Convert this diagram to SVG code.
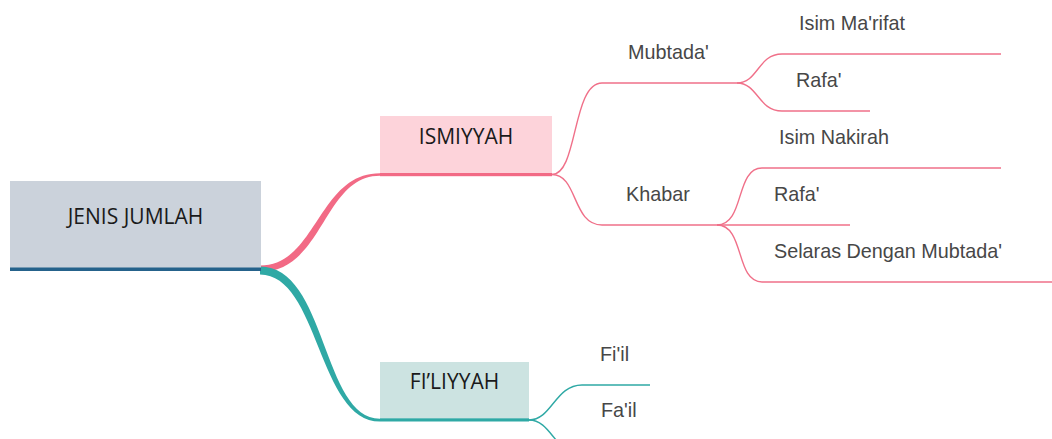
<svg xmlns="http://www.w3.org/2000/svg" width="1052" height="439" viewBox="0 0 1052 439">
<style>
.box-text{font-family:"Open Sans","Noto Sans",sans-serif;font-size:21px;fill:#1a1a1a;text-anchor:middle}
.leaf{font-family:"Liberation Sans",Arial,sans-serif;font-size:19.8px;fill:#474747}
.pk{fill:none;stroke:#f07089;stroke-width:1.4}
.tl{fill:none;stroke:#2fa9a5;stroke-width:1.4}
</style>
<rect width="1052" height="439" fill="#ffffff"/>
<g id="connectors">
<path d="M260,265.5 C317,265.5 318,173.3 380,173.3 L380,175.8 C323,175.8 324,272 260,272 Z" fill="#f26a85"/>
<path d="M260,266.5 C327,266.5 322,418.8 380,418.8 L380,421.6 C318,421.6 319,274.5 260,274.5 Z" fill="#2fa9a5"/>
<path class="pk" d="M552,174.5 C578,174.5 572,83 602,83 L737,83"/>
<path class="pk" d="M552,174.5 C578,174.5 572,225 602,225 L717,225"/>
<path class="pk" d="M737,83 C758,83 758,54 782,54 L1001,54"/>
<path class="pk" d="M737,83 C758,83 758,111 782,111 L870,111"/>
<path class="pk" d="M717,225 C745,225 735,168 762,168 L1001,168"/>
<path class="pk" d="M717,225 L850,225"/>
<path class="pk" d="M717,225 C745,225 735,282 762,282 L1052,282"/>
<path class="tl" d="M529,420 C552,420 555,385 582,385 L650,385"/>
<path class="tl" d="M529,420 C552,420 555,455 582,455 L650,455"/>
</g>
<g id="root">
<rect x="10" y="181" width="251" height="87" fill="#cbd2db"/>
<rect x="10" y="267.5" width="251" height="3.5" fill="#25628b"/>
<text class="box-text" x="135.5" y="224">JENIS JUMLAH</text>
</g>
<g id="ismiyyah">
<rect x="380" y="116" width="172" height="57.5" fill="#fdd3da"/>
<rect x="380" y="173" width="172" height="3.2" fill="#f26a85"/>
<text class="box-text" x="466" y="144">ISMIYYAH</text>
</g>
<g id="filiyyah">
<rect x="380" y="362" width="149" height="56.5" fill="#cce3e1"/>
<rect x="380" y="418.3" width="149" height="3.2" fill="#2fa9a5"/>
<text class="box-text" x="454.5" y="389">FI’LIYYAH</text>
</g>
<g id="mubtada"><text class="leaf" x="628" y="59">Mubtada'</text></g>
<g id="isim-marifat"><text class="leaf" x="799" y="30">Isim Ma'rifat</text></g>
<g id="rafa-1"><text class="leaf" x="796" y="87">Rafa'</text></g>
<g id="khabar"><text class="leaf" x="626" y="201">Khabar</text></g>
<g id="isim-nakirah"><text class="leaf" x="779" y="144">Isim Nakirah</text></g>
<g id="rafa-2"><text class="leaf" x="774" y="201">Rafa'</text></g>
<g id="selaras"><text class="leaf" x="774" y="258">Selaras Dengan Mubtada'</text></g>
<g id="fiil"><text class="leaf" x="600" y="361">Fi'il</text></g>
<g id="fail"><text class="leaf" x="601" y="417">Fa'il</text></g>
</svg>
